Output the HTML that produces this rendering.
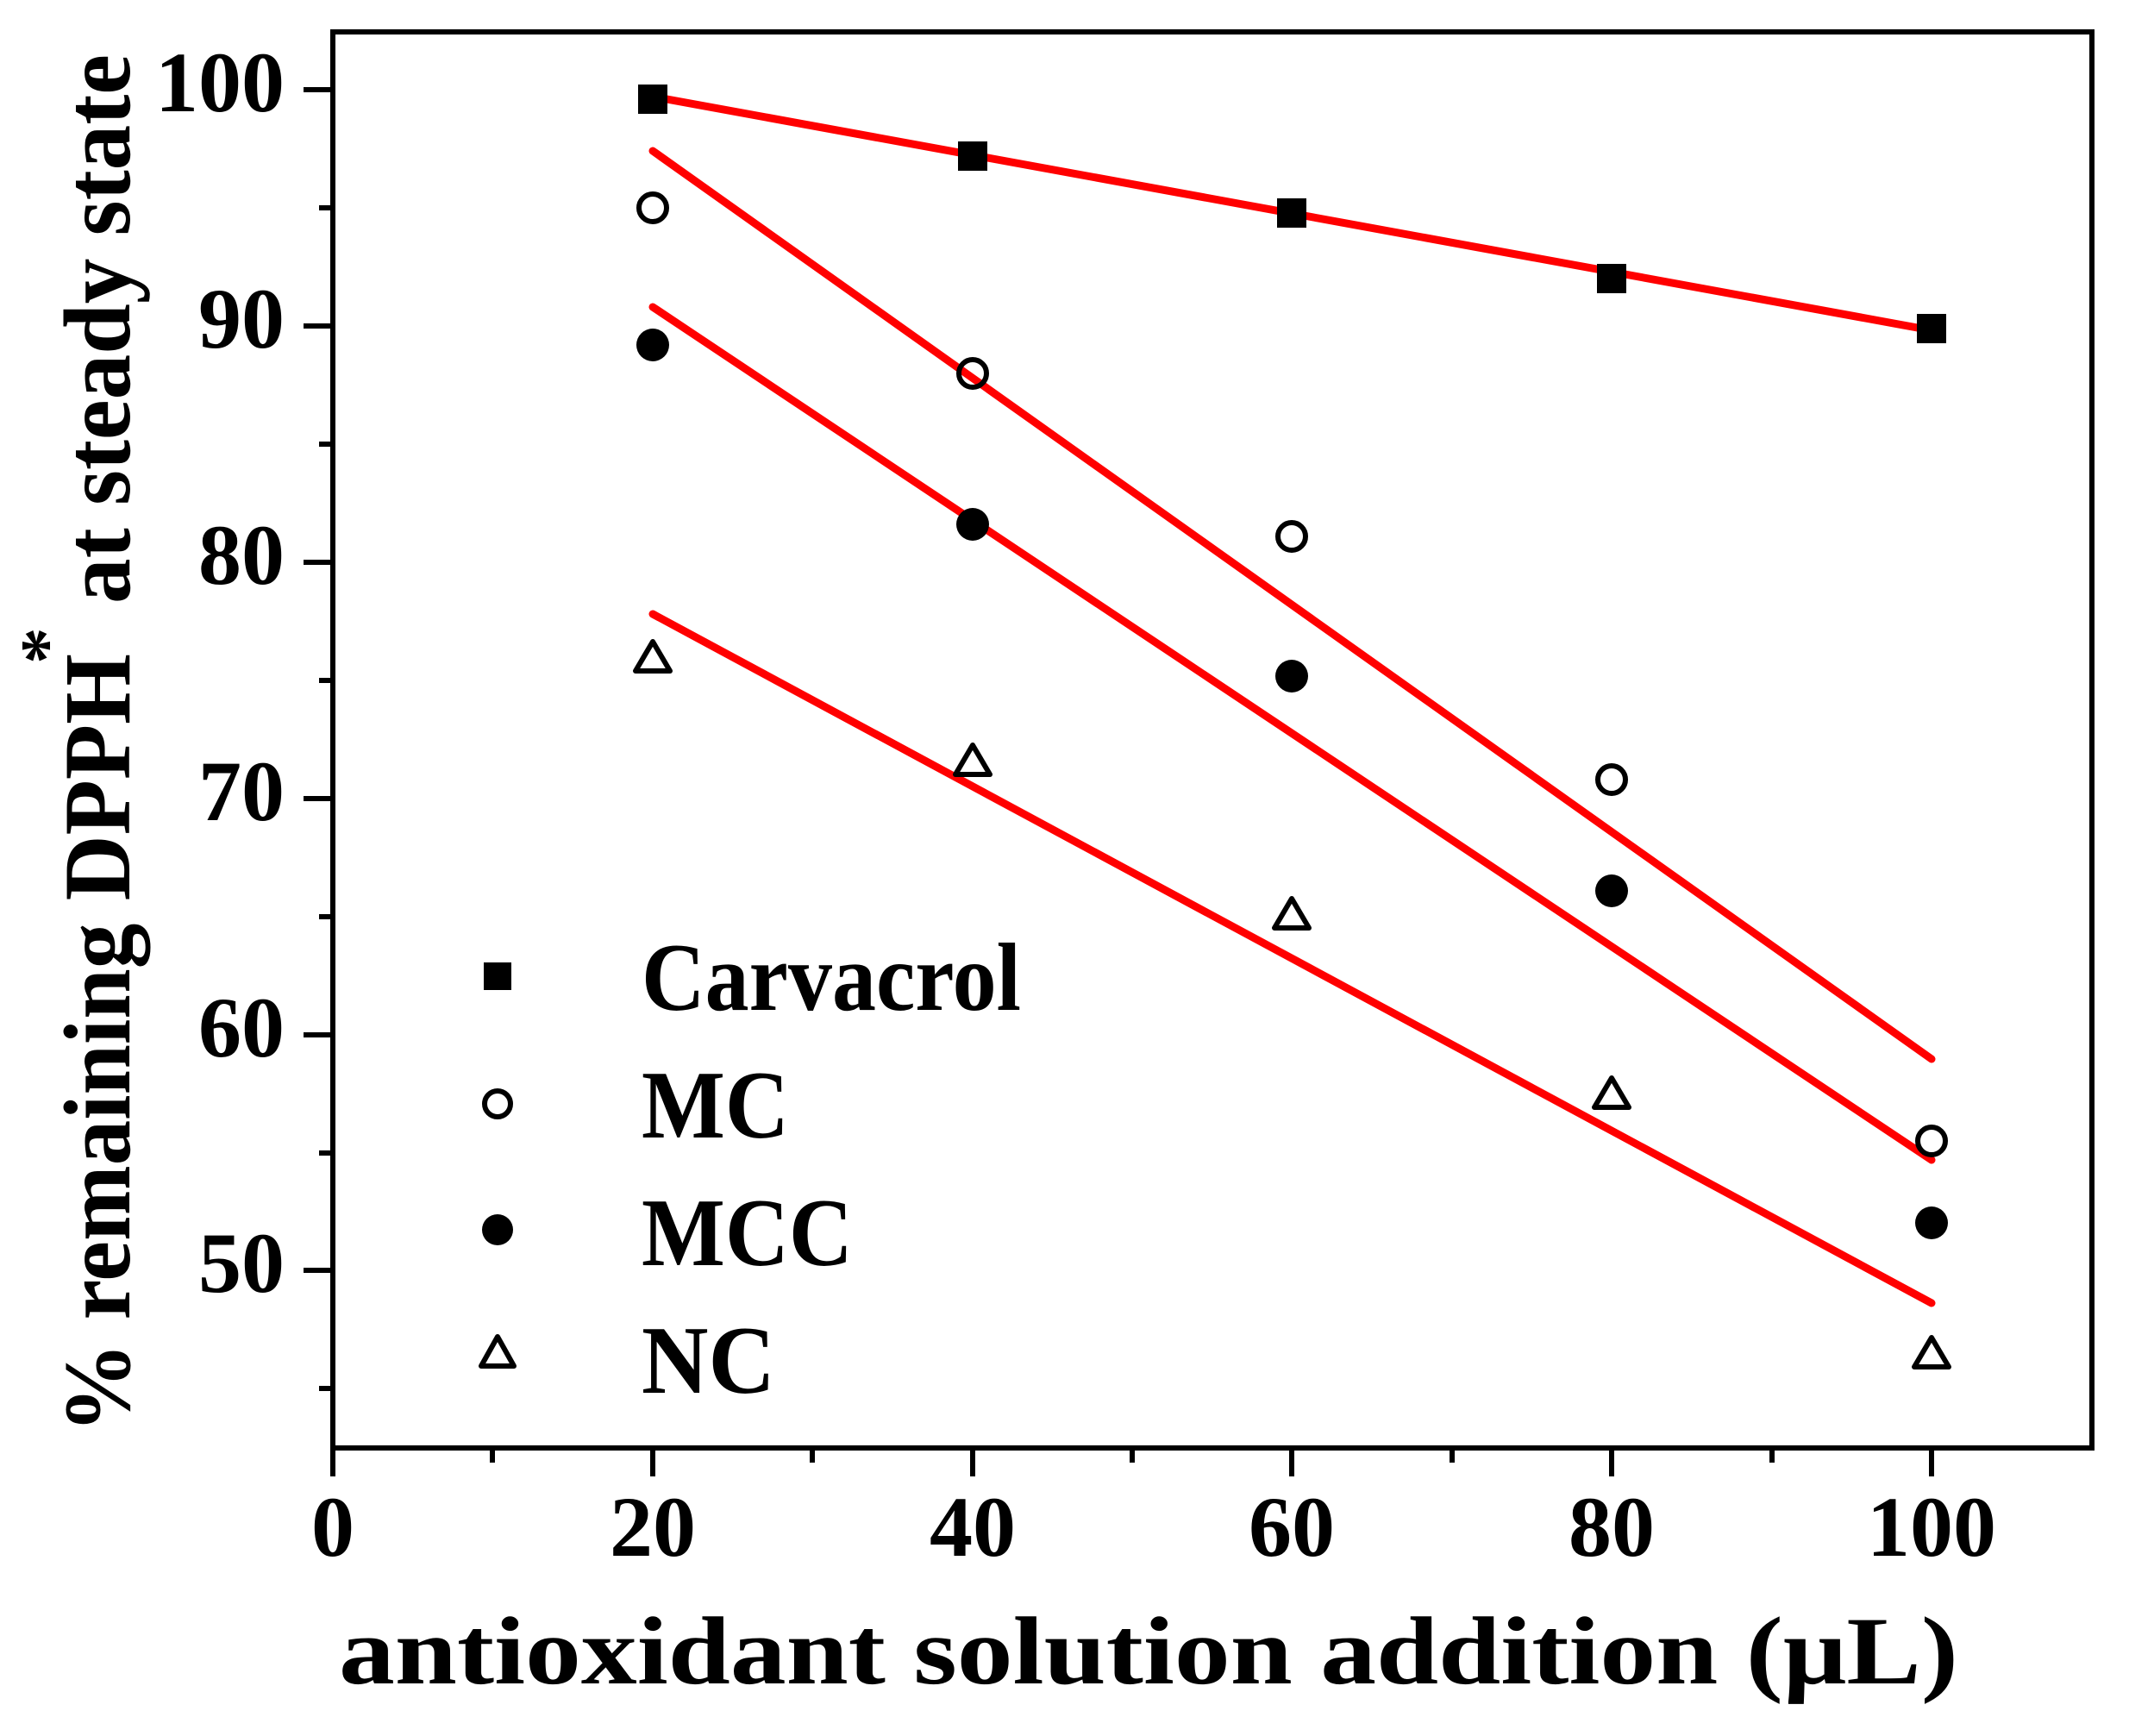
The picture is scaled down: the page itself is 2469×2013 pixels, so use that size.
<!DOCTYPE html>
<html><head><meta charset="utf-8"><style>html,body{margin:0;padding:0;background:#fff}svg{display:block}</style></head>
<body>
<svg width="2469" height="2013" viewBox="0 0 2469 2013" xmlns="http://www.w3.org/2000/svg" font-family="'Liberation Serif', serif" font-weight="bold">
<rect width="2469" height="2013" fill="#fff"/>
<rect x="386" y="37" width="2040" height="1642" fill="none" stroke="#000" stroke-width="6"/>
<g stroke="#000" stroke-width="6">
<line x1="352" y1="104" x2="386" y2="104"/>
<line x1="370" y1="241" x2="386" y2="241"/>
<line x1="352" y1="378" x2="386" y2="378"/>
<line x1="370" y1="515" x2="386" y2="515"/>
<line x1="352" y1="652" x2="386" y2="652"/>
<line x1="370" y1="789" x2="386" y2="789"/>
<line x1="352" y1="926" x2="386" y2="926"/>
<line x1="370" y1="1063" x2="386" y2="1063"/>
<line x1="352" y1="1200" x2="386" y2="1200"/>
<line x1="370" y1="1337" x2="386" y2="1337"/>
<line x1="352" y1="1473" x2="386" y2="1473"/>
<line x1="370" y1="1610" x2="386" y2="1610"/>
<line x1="386" y1="1679" x2="386" y2="1712"/>
<line x1="571" y1="1679" x2="571" y2="1696"/>
<line x1="757" y1="1679" x2="757" y2="1712"/>
<line x1="942" y1="1679" x2="942" y2="1696"/>
<line x1="1128" y1="1679" x2="1128" y2="1712"/>
<line x1="1313" y1="1679" x2="1313" y2="1696"/>
<line x1="1498" y1="1679" x2="1498" y2="1712"/>
<line x1="1684" y1="1679" x2="1684" y2="1696"/>
<line x1="1869" y1="1679" x2="1869" y2="1712"/>
<line x1="2055" y1="1679" x2="2055" y2="1696"/>
<line x1="2240" y1="1679" x2="2240" y2="1712"/>
</g>
<g font-size="100" text-anchor="end">
<text x="330" y="129">100</text>
<text x="330" y="403">90</text>
<text x="330" y="677">80</text>
<text x="330" y="951">70</text>
<text x="330" y="1225">60</text>
<text x="330" y="1498">50</text>
</g>
<g font-size="100" text-anchor="middle">
<text x="386" y="1804">0</text>
<text x="757" y="1804">20</text>
<text x="1128" y="1804">40</text>
<text x="1498" y="1804">60</text>
<text x="1869" y="1804">80</text>
<text x="2240" y="1804">100</text>
</g>
<text x="393" y="1952" font-size="112" textLength="1878" lengthAdjust="spacingAndGlyphs">antioxidant solution addition (μL)</text>
<text transform="translate(150,1662) rotate(-90)" font-size="110" textLength="904" lengthAdjust="spacingAndGlyphs">% remaining DPPH</text>
<text transform="translate(82,770) rotate(-90)" font-size="85">*</text>
<text transform="translate(150,700) rotate(-90)" font-size="110" textLength="637" lengthAdjust="spacingAndGlyphs">at steady state</text>
<g stroke="#ff0000" stroke-width="9" stroke-linecap="round">
<line x1="757" y1="112" x2="2240" y2="383"/>
<line x1="757" y1="175" x2="2240" y2="1228"/>
<line x1="757" y1="356" x2="2240" y2="1345"/>
<line x1="757" y1="712" x2="2240" y2="1511"/>
</g>
<g fill="#000">
<rect x="740" y="98" width="34" height="34"/>
<rect x="1111" y="164" width="34" height="34"/>
<rect x="1481" y="230" width="34" height="34"/>
<rect x="1852" y="306" width="34" height="34"/>
<rect x="2223" y="364" width="34" height="34"/>
</g>
<g fill="none" stroke="#000" stroke-width="6">
<circle cx="757" cy="241" r="16"/>
<circle cx="1128" cy="433" r="16"/>
<circle cx="1498" cy="622" r="16"/>
<circle cx="1869" cy="904" r="16"/>
<circle cx="2240" cy="1323" r="16"/>
</g>
<g fill="#000">
<circle cx="757" cy="400" r="19"/>
<circle cx="1128" cy="608" r="19"/>
<circle cx="1498" cy="784" r="19"/>
<circle cx="1869" cy="1033" r="19"/>
<circle cx="2240" cy="1418" r="19"/>
</g>
<g fill="none" stroke="#000" stroke-width="6" stroke-linejoin="round">
<polygon points="757,744 777,778 737,778"/>
<polygon points="1128,864 1148,898 1108,898"/>
<polygon points="1498,1042 1518,1076 1478,1076"/>
<polygon points="1869,1250 1889,1284 1849,1284"/>
<polygon points="2240,1551 2260,1585 2220,1585"/>
</g>
<rect x="561" y="1116" width="32" height="32" fill="#000"/>
<circle cx="577" cy="1280" r="15" fill="none" stroke="#000" stroke-width="6"/>
<circle cx="577" cy="1426" r="18" fill="#000"/>
<polygon points="577,1550 596,1584 558,1584" fill="none" stroke="#000" stroke-width="6" stroke-linejoin="round"/>
<g font-size="112">
<text x="744" y="1171" textLength="440" lengthAdjust="spacingAndGlyphs">Carvacrol</text>
<text x="744" y="1319" textLength="171" lengthAdjust="spacingAndGlyphs">MC</text>
<text x="744" y="1467" textLength="245" lengthAdjust="spacingAndGlyphs">MCC</text>
<text x="744" y="1615" textLength="155" lengthAdjust="spacingAndGlyphs">NC</text>
</g>
</svg>
</body></html>
